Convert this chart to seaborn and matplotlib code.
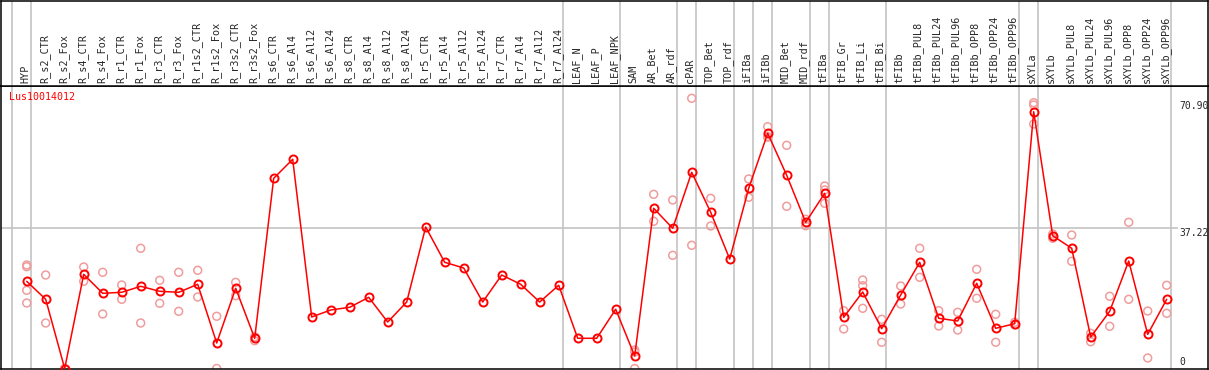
import numpy as np
import pandas as pd
import matplotlib
matplotlib.use("Agg")
import matplotlib.pyplot as plt
import seaborn as sns

# sample columns (left to right)
samples = [
    "HYP", "R_s2_CTR", "R_s2_Fox", "R_s4_CTR", "R_s4_Fox", "R_r1_CTR", "R_r1_Fox",
    "R_r3_CTR", "R_r3_Fox", "R_r1s2_CTR", "R_r1s2_Fox", "R_r3s2_CTR", "R_r3s2_Fox",
    "R_s6_CTR", "R_s6_Al4", "R_s6_Al12", "R_s6_Al24", "R_s8_CTR", "R_s8_Al4",
    "R_s8_Al12", "R_s8_Al24", "R_r5_CTR", "R_r5_Al4", "R_r5_Al12", "R_r5_Al24",
    "R_r7_CTR", "R_r7_Al4", "R_r7_Al12", "R_r7_Al24", "LEAF_N", "LEAF_P", "LEAF_NPK",
    "SAM", "AR_Bet", "AR_rdf", "cPAR", "TOP_Bet", "TOP_rdf", "iFIBa", "iFIBb",
    "MID_Bet", "MID_rdf", "tFIBa", "tFIB_Gr", "tFIB_Li", "tFIB_Bi", "tFIBb",
    "tFIBb_PUL8", "tFIBb_PUL24", "tFIBb_PUL96", "tFIBb_OPP8", "tFIBb_OPP24", "tFIBb_OPP96",
    "sXYLa", "sXYLb", "sXYLb_PUL8", "sXYLb_PUL24", "sXYLb_PUL96", "sXYLb_OPP8",
    "sXYLb_OPP24", "sXYLb_OPP96",
]

# mean expression per sample
means = [
    23.15, 18.37, 0.0, 25.0, 19.96, 20.23, 21.82, 20.49, 20.23, 22.35, 6.77, 21.29, 8.02,
    50.49, 55.54, 13.67, 15.53, 16.25, 18.90, 12.34, 17.65, 37.56, 28.19, 26.68, 17.65,
    24.82, 22.35, 17.65, 22.09, 8.02, 8.02, 15.72,
    3.32, 42.53, 37.22, 52.08, 41.47, 29.07, 47.84, 62.44, 51.29, 38.81, 46.51,
    13.59, 20.31, 10.57, 19.51, 28.19, 13.33, 12.61, 22.62, 10.67, 11.89,
    68.17, 35.25, 31.91, 8.36, 15.18, 28.54, 9.08, 18.37,
]

# replicate values per sample (empty = single measurement)
replicates = [
    [27.48, 27.02, 20.76, 17.39], [24.82, 12.08], [0.0, 0.0], [26.94, 23.15],
    [25.54, 14.47], [22.17, 18.37], [31.91, 12.08], [23.41, 17.31], [25.54, 15.18],
    [26.07, 18.98], [13.86, 0.0], [22.88, 19.33], [8.44, 7.38],
    [], [], [], [], [], [], [], [], [], [], [], [], [], [], [], [], [], [], [],
    [4.91, 4.38, 0.0], [46.24, 39.08], [44.73, 30.05], [71.73, 32.71], [45.18, 37.83],
    [], [50.31, 45.45], [64.19, 61.6, 61.4], [59.25, 43.06], [39.61, 37.91],
    [48.45, 47.39, 43.85], [15.34, 10.49], [23.49, 21.98, 15.98], [13.06, 6.96],
    [21.9, 17.12], [31.91, 24.21], [15.34, 11.28], [14.92, 10.22], [26.33, 18.64],
    [14.39, 6.96], [12.26, 11.55],
    [70.56, 69.95, 64.9], [35.7, 34.56], [35.44, 28.46], [9.34, 7.11], [19.17, 11.2],
    [38.81, 18.37], [15.26, 2.79], [22.09, 14.65],
]

# index of last sample in each group (separator drawn after it)
group_ends = [-1, 0, 28, 31, 34, 35, 37, 38, 39, 41, 42, 45, 52, 53, 60]
gene = "Lus10014012"
tick_labels = ["70.90", "37.22", "0"]

pos = np.arange(len(samples))
df_mean = pd.DataFrame({"pos": pos, "value": means})
rep_pos = [p for p, r in zip(pos, replicates) for _ in r]
rep_val = [v for r in replicates for v in r]
df_rep = pd.DataFrame({"pos": rep_pos, "value": rep_val})

sns.set_style("white")
plt.rcParams["font.family"] = ["DejaVu Sans Mono"]

W, H = 1209, 370
fig = plt.figure(figsize=(W / 100, H / 100), dpi=100)

# pixel helpers
x0, x1 = 1.0, 1207.5
def px_to_idx(x):
    return (x - 26.7) / 19.0
def py_to_val(y):
    return (368.5 - y) / 3.767

xlim = (px_to_idx(x0), px_to_idx(x1))
ax = fig.add_axes([x0 / W, (H - 369) / H, (x1 - x0) / W, (369 - 85.5) / H])
axh = fig.add_axes([x0 / W, (H - 85.5) / H, (x1 - x0) / W, 85.0 / H])

grey = "#c4c4c4"
for a in (ax, axh):
    a.set_xlim(*xlim)
    for g in group_ends:
        a.axvline(g + 0.21, color=grey, lw=1.2, zorder=0)
    a.set_xticks([])
    a.set_yticks([])
    for s in a.spines.values():
        s.set_color("black")
        s.set_linewidth(1.1)

ax.set_ylim(py_to_val(369), py_to_val(85.5))
ax.hlines(37.22, xlim[0], px_to_idx(1178), color=grey, lw=1.2, zorder=0)

sns.scatterplot(data=df_rep, x="pos", y="value", ax=ax, marker="o", s=32,
                facecolors="none", edgecolor="#f09c9c", linewidth=1.1, zorder=2)
sns.lineplot(data=df_mean, x="pos", y="value", ax=ax, color="red", lw=1.1,
             marker="o", markersize=5.8, markerfacecolor="none",
             markeredgecolor="red", markeredgewidth=1.4, sort=False, zorder=3)
ax.set_xlabel("")
ax.set_ylabel("")

# right-hand value labels
lx = px_to_idx(1179)
ax.text(lx, 70.90, tick_labels[0], va="top", ha="left", fontsize=7)
ax.text(lx, 37.22, tick_labels[1], va="top", ha="left", fontsize=7)
ax.text(lx, py_to_val(362), tick_labels[2], va="center", ha="left", fontsize=7)

ax.text(px_to_idx(9), py_to_val(97.3), gene, color="red", va="center", ha="left",
        fontsize=7.2)

# column headers
axh.set_ylim(0, 85)
for p, name in zip(pos, samples):
    axh.text(p - 0.07, 2.5, name, rotation=90, ha="center", va="bottom", fontsize=7.3)

fig.savefig("out.png", dpi=100)
